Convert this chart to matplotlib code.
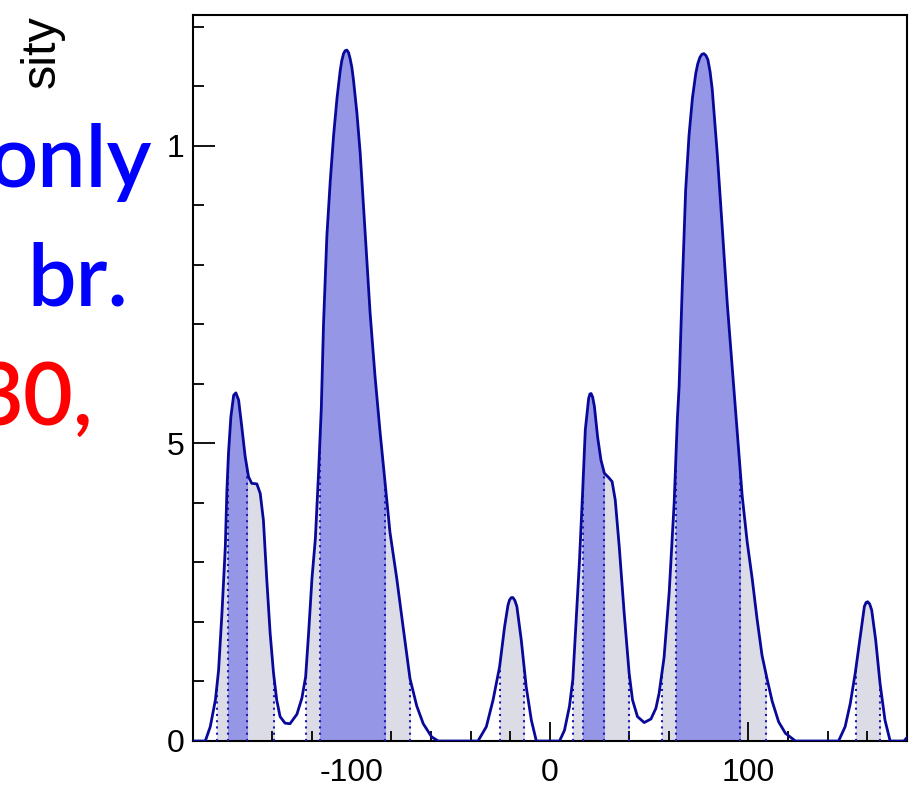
import matplotlib
matplotlib.use("Agg")
import matplotlib.pyplot as plt
from matplotlib.patches import Polygon, Rectangle
from matplotlib.ticker import MultipleLocator
import numpy as np

# density curve (angle in degrees, density)
angle = [-180, -173.8, -171.3, -168.7, -167.1, -165.4, -163.7, -162.9, -162.1, -160.9,
         -159.5, -158.4, -157.0, -155.4, -153.7, -152.0, -150.4, -147.8, -146.1, -144.5,
         -142.8, -141.1, -139.4, -137.8, -136.1, -133.6, -131.1, -127.6, -125.1, -123.2,
         -121.7, -120.0, -118.3, -116.7, -115.3, -114.2, -112.5, -110.8, -109.1, -107.4,
         -105.8, -105.0, -104.1, -103.3, -102.4, -101.6, -100.8, -99.9, -99.1, -97.4,
         -95.7, -94.1, -92.4, -90.7, -88.2, -85.7, -83.2, -80.7, -77.3, -74.0,
         -70.6, -67.2, -63.9, -59.7, -56.4, -36.3, -32.1, -28.7, -25.4, -22.9,
         -21.2, -20.4, -19.5, -18.7, -17.7, -16.7, -14.5, -12.0, -9.4, -6.9,
         4.8, 7.3, 9.8, 11.5, 13.2, 14.8, 16.5, 17.8, 19.5, 20.1,
         20.7, 21.5, 22.4, 24.0, 25.7, 27.4, 29.5, 31.3, 32.9, 34.9,
         37.4, 39.9, 41.6, 44.1, 47.5, 50.9, 53.4, 55.0, 57.5, 60.1,
         62.6, 64.2, 65.1, 66.7, 68.4, 70.1, 71.8, 73.5, 74.5, 75.6,
         76.6, 77.6, 78.6, 79.6, 80.7, 81.8, 84.3, 86.8, 89.4, 91.9,
         94.4, 96.9, 99.4, 101.9, 104.4, 106.9, 109.4, 112.0, 115.3, 118.7,
         123.7, 145.5, 148.8, 151.4, 153.9, 156.4, 158.5, 159.4, 160.2, 161.2,
         162.2, 164.2, 166.4, 168.9, 171.5, 178.5, 180]
density = [0.0, 0.0, 0.0024, 0.0069, 0.0119, 0.0215, 0.0327, 0.0422, 0.0484, 0.0545,
           0.0581, 0.0585, 0.0573, 0.0528, 0.0478, 0.0444, 0.0433, 0.0432, 0.0416, 0.0371,
           0.0271, 0.0181, 0.0114, 0.0069, 0.0041, 0.0030, 0.0029, 0.0045, 0.0072, 0.0108,
           0.0182, 0.0274, 0.0340, 0.0450, 0.0560, 0.0700, 0.0849, 0.0941, 0.1018, 0.1080,
           0.1126, 0.1143, 0.1155, 0.1160, 0.1161, 0.1157, 0.1147, 0.1132, 0.1111, 0.1057,
           0.0988, 0.0903, 0.0811, 0.0719, 0.0612, 0.0520, 0.0435, 0.0351, 0.0274, 0.0190,
           0.0105, 0.0059, 0.0029, 0.0007, 0.0, 0.0, 0.0024, 0.0069, 0.0125, 0.0192,
           0.0228, 0.0237, 0.0241, 0.0241, 0.0236, 0.0226, 0.0170, 0.0091, 0.0035, 0.0,
           0.0, 0.0018, 0.0058, 0.0103, 0.0203, 0.0299, 0.0422, 0.0523, 0.0576, 0.0583,
           0.0584, 0.0578, 0.0562, 0.0511, 0.0472, 0.0450, 0.0443, 0.0436, 0.0405, 0.0327,
           0.0215, 0.0114, 0.0069, 0.0041, 0.0031, 0.0037, 0.0055, 0.0080, 0.0140, 0.0250,
           0.0400, 0.0540, 0.0596, 0.0765, 0.0926, 0.1018, 0.1080, 0.1122, 0.1138, 0.1149,
           0.1154, 0.1155, 0.1152, 0.1145, 0.1125, 0.1095, 0.0988, 0.0865, 0.0734, 0.0627,
           0.0520, 0.0412, 0.0335, 0.0274, 0.0205, 0.0144, 0.0105, 0.0067, 0.0032, 0.0013,
           0.0, 0.0, 0.0024, 0.0063, 0.0114, 0.0175, 0.0226, 0.0233, 0.0234, 0.0230,
           0.0220, 0.0170, 0.0097, 0.0035, 0.0, 0.0, 0.0006]

# credible intervals (dark = inner, light = outer)
dark_lo = [-162.4, -116.2, 16.8, 63.4]
dark_hi = [-152.8, -83.2, 27.2, 95.9]
light_lo = [-167.8, -123.0, -25.4, 11.5, 56.5, 154.1]
light_hi = [-139.4, -70.6, -13.3, 40.0, 109.0, 166.4]

x_ticks = [-100, 0, 100]
x_ticklabels = ["-100", "0", "100"]
y_ticks = [0, 0.05, 0.1]
y_ticklabels = ["0", "5", "1"]

LINE = "#08089a"
DOTS = "#1a1ab0"
DARK = "#9696e6"
LIGHT = "#dcdce6"
W, H = 923, 787

fig = plt.figure(figsize=(W / 100, H / 100), dpi=100)
ax = fig.add_axes([193 / W, 46 / H, 714 / W, 726 / H])
ax.set_xlim(-180, 180)
ax.set_ylim(0, 0.122)

x = np.array(angle)
y = np.array(density)

# area under the curve, used to clip the fills and the dotted lines
area = Polygon(np.column_stack([np.r_[x, x[-1], x[0]], np.r_[y, 0, 0]]),
               closed=True, transform=ax.transData)

for lo, hi in zip(light_lo, light_hi):
    f = ax.fill_between(x, y, 0, color=LIGHT, lw=0, zorder=1)
    f.set_clip_path(Rectangle((lo, 0), hi - lo, 1, transform=ax.transData))
for lo, hi in zip(dark_lo, dark_hi):
    f = ax.fill_between(x, y, 0, color=DARK, lw=0, zorder=2)
    f.set_clip_path(Rectangle((lo, 0), hi - lo, 1, transform=ax.transData))

edges = light_lo + light_hi + dark_lo + dark_hi
vl = ax.vlines(edges, 0, 1, colors=DOTS, linestyles=(0, (1, 2)), lw=1.5, zorder=3)
vl.set_clip_path(area)

ax.plot(x, y, color=LINE, lw=2.0, zorder=4, solid_joinstyle="round")

ax.set_xticks(x_ticks)
ax.set_xticklabels(x_ticklabels)
ax.set_yticks(y_ticks)
ax.set_yticklabels(y_ticklabels)
ax.xaxis.set_minor_locator(MultipleLocator(20))
ax.yaxis.set_minor_locator(MultipleLocator(0.01))
ax.tick_params(axis="x", which="major", direction="in", length=13.5, width=1.3,
               pad=12, labelsize=23)
ax.tick_params(axis="x", which="minor", direction="in", length=7, width=1.3)
ax.tick_params(axis="y", which="major", direction="in", length=15.5, width=1.3,
               pad=6, labelsize=23)
ax.tick_params(axis="y", which="minor", direction="in", length=8, width=1.3)
for lab in ax.get_xticklabels() + ax.get_yticklabels():
    lab.set_family("Liberation Sans")
for s in ax.spines.values():
    s.set_linewidth(1.5)

# partly hidden text on the left
fig.text(42 / W, 1 - 15 / H, "sity", rotation=90, ha="center", va="top",
         fontsize=35, family="Liberation Sans")
fig.text(152 / W, 1 - 187 / H, "only", ha="right", va="baseline",
         fontsize=62, color="#0000ff", family="Lato", weight=600)
fig.text(128 / W, 1 - 305 / H, "br.", ha="right", va="baseline",
         fontsize=62, color="#0000ff", family="Lato", weight=600)
fig.text(93 / W, 1 - 425 / H, "30,", ha="right", va="baseline",
         fontsize=62, color="#ff0000", family="Lato", weight=600)

fig.savefig("out.png", dpi=100)
